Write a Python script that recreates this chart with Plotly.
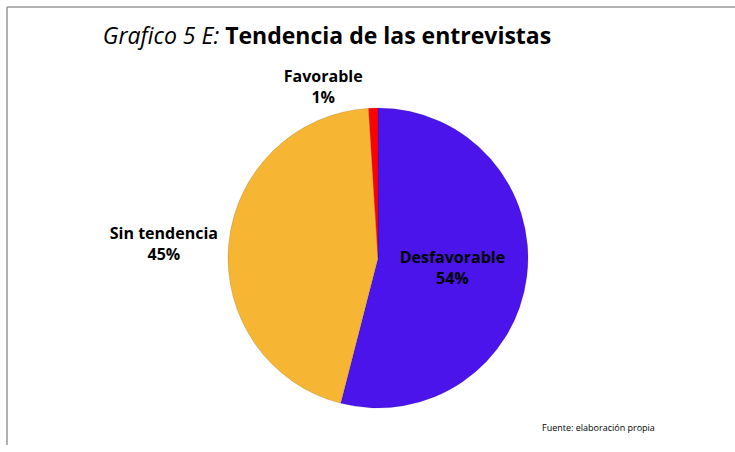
import plotly.graph_objects as go

labels = ["Desfavorable", "Sin tendencia", "Favorable"]
values = [54, 45, 1]
colors = ["#4B14EB", "#F7B534", "#FF0000"]

W, H = 735, 452

fig = go.Figure()
fig.add_trace(go.Pie(
    labels=labels,
    values=values,
    sort=False,
    direction="clockwise",
    rotation=0,
    marker=dict(colors=colors, line=dict(color="rgba(0,0,0,0.25)", width=0.5)),
    texttemplate="%{label}<br>%{percent:.0%}",
    textposition=["inside", "outside", "outside"],
    insidetextorientation="horizontal",
    textfont=dict(family="Open Sans", size=16, color="black", weight="bold"),
    showlegend=False,
    hoverinfo="label+percent",
    domain=dict(x=[(378 - 150) / W, (378 + 150) / W], y=[(194 - 150) / H, (194 + 150) / H]),
))

fig.update_layout(
    width=W, height=H,
    margin=dict(l=0, r=0, t=0, b=0),
    paper_bgcolor="white",
    plot_bgcolor="white",
    title=dict(
        text="<i>Grafico 5 E:</i> <b>Tendencia de las entrevistas</b>",
        x=327 / W, xanchor="center", y=1 - 36 / H, yanchor="middle",
        font=dict(family="Open Sans", size=23, color="black"),
    ),
    annotations=[dict(
        text="Fuente: elaboración propia",
        x=540 / W, y=1 - 427 / H, xref="paper", yref="paper",
        xanchor="left", yanchor="middle", showarrow=False,
        font=dict(family="Open Sans", size=9, color="black"),
    )],
    shapes=[
        dict(type="line", xref="paper", yref="paper", x0=7 / W, x1=7 / W, y0=1 - 7 / H, y1=1 - 445 / H,
             line=dict(color="#999999", width=1.5)),
        dict(type="line", xref="paper", yref="paper", x0=7 / W, x1=1, y0=1 - 7 / H, y1=1 - 7 / H,
             line=dict(color="#999999", width=1.5)),
    ],
)

fig.write_html(
    "out.html",
    config={"displayModeBar": False},
    post_script="document.body.style.margin='0';document.body.style.overflow='hidden';",
)
